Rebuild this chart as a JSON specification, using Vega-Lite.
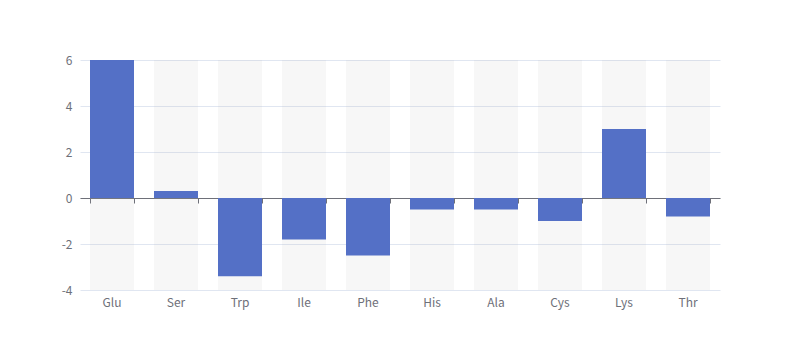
{
  "$schema": "https://vega.github.io/schema/vega-lite/v6.json",
  "autosize": "none",
  "width": 640,
  "height": 230,
  "padding": {"left": 80, "top": 60, "right": 80, "bottom": 70},
  "background": "white",
  "config": {
    "view": {"stroke": null},
    "font": "Noto Sans CJK SC",
    "axis": {"labelFont": "Noto Sans CJK SC", "labelColor": "#6E7079", "labelFontSize": 12}
  },
  "data": {
    "values": [
      {"name": "Glu", "value": 6},
      {"name": "Ser", "value": 0.3},
      {"name": "Trp", "value": -3.4},
      {"name": "Ile", "value": -1.8},
      {"name": "Phe", "value": -2.5},
      {"name": "His", "value": -0.5},
      {"name": "Ala", "value": -0.5},
      {"name": "Cys", "value": -1},
      {"name": "Lys", "value": 3},
      {"name": "Thr", "value": -0.8}
    ]
  },
  "resolve": {"axis": {"x": "independent"}},
  "layer": [
    {
      "mark": {"type": "bar", "color": "#b4b4b4", "opacity": 0.11},
      "encoding": {
        "x": {
          "field": "name", "type": "nominal", "sort": null,
          "scale": {"paddingInner": 0.3125, "paddingOuter": 0.15625},
          "axis": {"orient": "bottom", "title": null, "domain": false, "ticks": false, "labelAngle": 0, "labelPadding": 7, "grid": false}
        },
        "y": {
          "datum": 6, "type": "quantitative",
          "scale": {"domain": [-4, 6], "nice": false},
          "axis": {"title": null, "values": [-4, -2, 0, 2, 4, 6], "labelExpr": "datum.value < 0 ? '-' + abs(datum.value) : '' + datum.value", "domain": false, "ticks": false, "labelPadding": 8, "grid": true, "gridColor": "#E0E6F1", "gridWidth": 1}
        },
        "y2": {"datum": -4}
      }
    },
    {
      "mark": {"type": "bar", "color": "#5470c6"},
      "encoding": {
        "x": {
          "field": "name", "type": "nominal", "sort": null,
          "axis": {"orient": "bottom", "offset": -92, "title": null, "labels": false, "domain": true, "domainColor": "#6E7079", "domainWidth": 1, "ticks": true, "tickBand": "extent", "tickExtra": true, "tickColor": "#6E7079", "tickSize": 5, "grid": false}
        },
        "y": {"field": "value", "type": "quantitative"}
      }
    }
  ]
}
